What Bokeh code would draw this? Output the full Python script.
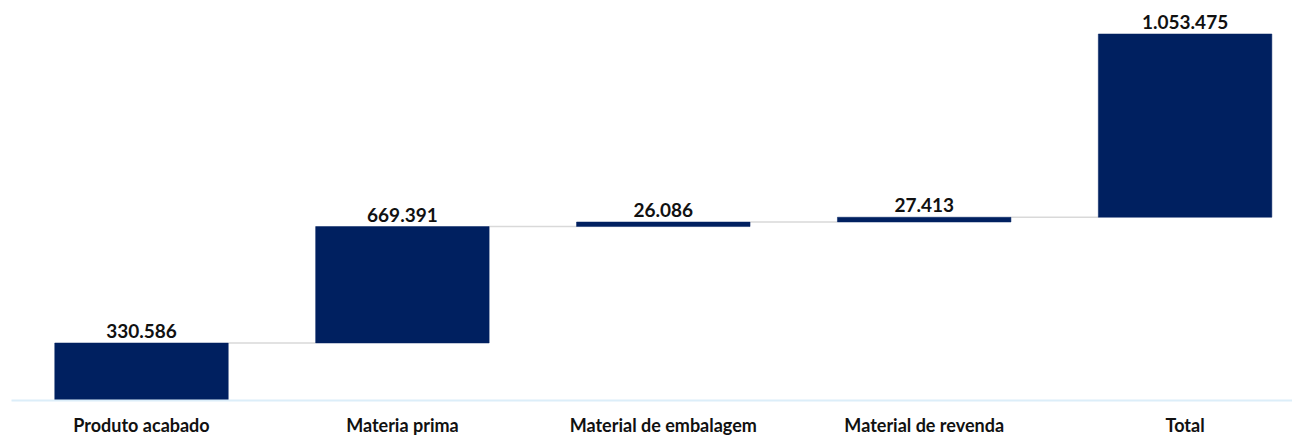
from bokeh.plotting import figure
from bokeh.models import Range1d, FixedTicker, ColumnDataSource, LabelSet
from bokeh.core.properties import value
from bokeh.embed import file_html
from bokeh.resources import INLINE

categories = ["Produto acabado", "Materia prima", "Material de embalagem", "Material de revenda", "Total"]
steps = [330586, 669391, 26086, 27413]
total = 1053475

# waterfall geometry derived from the data
bottoms = []
tops = []
running = 0
for s in steps:
    bottoms.append(running)
    running += s
    tops.append(running)
bottoms.append(running)
tops.append(running + total)
values = steps + [total]
labels = [f"{v:,}".replace(",", ".") for v in values]
xs = list(range(len(categories)))

src = ColumnDataSource(dict(x=xs, bottom=bottoms, top=tops, label=labels))

BAR_W = 0.665
FONT = "Lato"

p = figure(frame_width=1281, frame_height=400, output_backend="svg", toolbar_location=None,
           x_range=Range1d(-0.4983, 4.4117), y_range=Range1d(0, 2299500),
           min_border_left=11, min_border_right=0, min_border_top=0, min_border_bottom=0)
p.outline_line_color = None
p.xgrid.visible = False
p.ygrid.visible = False
p.yaxis.visible = False
p.background_fill_color = "white"
p.border_fill_color = "white"

# connectors
cx0 = [x + BAR_W / 2 for x in xs[:-1]]
cx1 = [x + 1 - BAR_W / 2 for x in xs[:-1]]
cy = tops[:-1]
p.segment(x0=cx0, y0=cy, x1=cx1, y1=cy, line_color="#D9D9D9", line_width=1.5)

p.vbar(x="x", bottom="bottom", top="top", width=BAR_W, source=src,
       fill_color="#002060", line_color="#002060", line_width=0.5)

p.add_layout(LabelSet(x="x", y="top", text="label", source=src, text_align="center",
                      text_baseline="alphabetic", y_offset=5, text_font=value(FONT),
                      text_font_style="bold", text_font_size="19px", text_color="#111111"))

ax = p.xaxis[0]
ax.ticker = FixedTicker(ticks=xs)
ax.major_label_overrides = {i: c for i, c in enumerate(categories)}
ax.axis_line_color = "#DCEEF9"
ax.axis_line_width = 2
ax.major_tick_line_color = None
ax.minor_tick_line_color = None
ax.major_label_text_font = FONT
ax.major_label_text_font_style = "bold"
ax.major_label_text_font_size = "18px"
ax.major_label_text_color = "#111111"
ax.major_label_standoff = 7

open("out.html", "w").write(file_html(p, INLINE))
